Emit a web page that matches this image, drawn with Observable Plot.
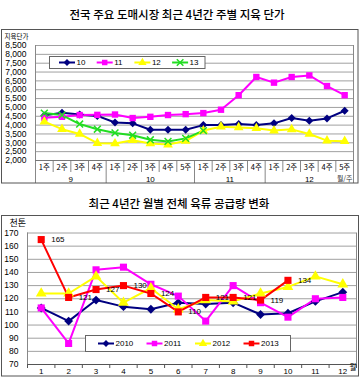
<!DOCTYPE html>
<html><head><meta charset="utf-8">
<script src="https://cdn.jsdelivr.net/npm/d3@7"></script>
<script src="https://cdn.jsdelivr.net/npm/@observablehq/plot@0.6"></script>
<style>
body{margin:0;background:#fff;width:361px;height:378px;position:relative;overflow:hidden;}
.chart{position:absolute;left:0;}
#overlay{position:absolute;left:0;top:0;}
</style></head>
<body>
<div id="top" class="chart" style="top:29px"></div>
<div id="bottom" class="chart" style="top:215px"></div>
<svg id="overlay" width="361" height="378"></svg>
<script>
// ---------- data: top chart (weekly carcass price) ----------
const weekLabels = ["1주","2주","3주","4주","1주","2주","3주","4주","5주","1주","2주","3주","4주","1주","2주","3주","4주","5주"];
const monthLabels = ["9","10","11","12"];
const weeksPerMonth = [4,5,4,5];
const topTicks = [2000,2500,3000,3500,4000,4500,5000,5500,6000,6500,7000,7500,8000,8500];
const topNames = ["10","11","12","13"];
const price10 = [4550,4700,4600,4520,4150,4100,3740,3740,3740,4000,4000,4060,4000,4100,4400,4250,4380,4810];
const price11 = [4420,4470,4570,4580,4600,4400,4470,4570,4620,4680,4870,5690,6720,6400,6720,6810,6210,5690];
const price12 = [4200,3770,3500,2980,2960,3150,2960,2900,3100,3690,3910,3870,3820,3690,3760,3500,3120,3090];
const price13 = [4680,4570,4060,3770,3560,3430,3170,3080,3250,3690];

// ---------- data: bottom chart (monthly meat supply) ----------
const monthNums = [1,2,3,4,5,6,7,8,9,10,11,12];
const botTicks = [70,80,90,100,110,120,130,140,150,160,170];
const botNames = ["2010","2011","2012","2013"];
const supply2010 = [113,103,119,114,112,117,116,117,108,109,118,125];
const supply2011 = [113,86,142,144,131,122,103,130,117,106,120,121];
const supply2012 = [124,124,137,117,128,112,119,118,124,129,137,131];
const supply2013 = [165,121,127,130,124,110,121,121,119,134];

// ---------- styles ----------
const FONT = '"Liberation Sans","Noto Sans CJK KR",sans-serif';
const KFONT = '"Noto Sans CJK KR",sans-serif';
const topColors = ["#000080","#ff00ff","#ffff00","#22dd22"];
const topSymbols = ["diamond2","square","triangle","times"];
const botColors = ["#000080","#ff00ff","#ffff00","#ff0000"];
const botSymbols = ["diamond2","square","triangle","square"];
const gridColor = "#a0a0a0";

// ---------- top chart ----------
const topSeries = [price10, price11, price12, price13];
const topRows = topSeries.flatMap((vals, s) => vals.map((v, i) => ({series: topNames[s], pos: i + 0.5, v})));
const monthStarts = d3.cumsum([0, ...weeksPerMonth]);            // 0,4,9,13,18
const monthCenters = weeksPerMonth.map((n, k) => monthStarts[k] + n / 2);
const nWeeks = weekLabels.length;
const weekBounds = d3.range(1, nWeeks).filter(b => !monthStarts.includes(b));

const topPlot = Plot.plot({
  width: 361, height: 154,
  marginTop: 16, marginBottom: 23, marginLeft: 35, marginRight: 8,
  style: {fontFamily: FONT, background: "transparent", overflow: "visible", color: "#000"},
  x: {domain: [0, nWeeks], axis: null, label: null},
  y: {domain: [topTicks[0], topTicks[topTicks.length - 1]], axis: null, label: null},
  color: {domain: topNames, range: topColors},
  symbol: {domain: topNames, range: topSymbols},
  marks: [
    Plot.ruleY(topTicks.slice(1), {stroke: gridColor}),
    Plot.ruleX([0, nWeeks], {stroke: "#888"}),
    Plot.axisX({ticks: weekBounds, tickSize: 12, tickFormat: () => "", stroke: "#888", label: null}),
    Plot.axisX({ticks: monthStarts, tickSize: 23, tickFormat: () => "", stroke: "#888", label: null}),
    Plot.ruleY([topTicks[0]], {stroke: "#777"}),
    Plot.axisY({ticks: topTicks, tickSize: 0, tickPadding: 9, tickFormat: d3.format(","), fontSize: 8.5, label: null}),
    Plot.line(topRows, {x: "pos", y: "v", z: "series", stroke: "series", strokeWidth: 2}),
    Plot.dot(topRows.filter(d => d.series !== "13"), {x: "pos", y: "v", symbol: "series", fill: "series", r: 3.6}),
    Plot.dot(topRows.filter(d => d.series === "13"), {x: "pos", y: "v", symbol: "series", stroke: "series", r: 3.2, strokeWidth: 1.5}),
    Plot.text(weekLabels, {x: (d, i) => i + 0.5, text: d => d, frameAnchor: "bottom", lineAnchor: "middle", dy: 7, fontSize: 7.5, fontFamily: KFONT}),
    Plot.text(monthLabels, {x: (d, i) => monthCenters[i], text: d => d, frameAnchor: "bottom", lineAnchor: "middle", dy: 19, fontSize: 8}),
    Plot.text(["월/주"], {text: d => d, frameAnchor: "bottom-right", textAnchor: "end", lineAnchor: "middle", dx: -1, dy: 18, fontSize: 7, fontFamily: KFONT, fill: "#333"}),
    Plot.text(["지육단가"], {text: d => d, frameAnchor: "top-left", textAnchor: "start", lineAnchor: "middle", dx: -31, dy: -9, fontSize: 6.5, fontFamily: KFONT})
  ]
});
document.getElementById("top").appendChild(topPlot);

// ---------- bottom chart ----------
const botSeries = [supply2010, supply2011, supply2012, supply2013];
const botRows = botSeries.flatMap((vals, s) => vals.map((v, i) => ({series: botNames[s], m: monthNums[i], v})));
const labelRows = supply2013.map((v, i) => ({m: monthNums[i], v}));

const botPlot = Plot.plot({
  width: 361, height: 161,
  marginTop: 17.5, marginBottom: 12, marginLeft: 27, marginRight: 5,
  style: {fontFamily: FONT, background: "transparent", overflow: "visible", color: "#000"},
  x: {domain: [0.5, monthNums.length + 0.5], axis: null, label: null},
  y: {domain: [botTicks[0], botTicks[botTicks.length - 1]], axis: null, label: null},
  color: {domain: botNames, range: botColors},
  symbol: {domain: botNames, range: botSymbols},
  marks: [
    Plot.ruleY(botTicks.slice(1), {stroke: gridColor}),
    Plot.ruleX([0.5, monthNums.length + 0.5], {stroke: "#888"}),
    Plot.ruleY([botTicks[0]], {stroke: "#555"}),
    Plot.axisX({ticks: d3.range(0.5, monthNums.length + 1, 1), tickSize: 4, tickFormat: () => "", stroke: "#555", label: null}),
    Plot.axisX({ticks: monthNums, tickSize: 0, tickPadding: 4, fontSize: 8, label: null}),
    Plot.axisY({ticks: botTicks, tickSize: 0, tickPadding: 9, fontSize: 8.5, label: null}),
    Plot.line(botRows, {x: "m", y: "v", z: "series", stroke: "series", strokeWidth: 2}),
    Plot.dot(botRows, {x: "m", y: "v", symbol: "series", fill: "series", r: 4}),
    Plot.text(labelRows, {x: "m", y: "v", text: d => String(d.v), textAnchor: "start", dx: 10, fontSize: 8}),
    Plot.text(["천톤"], {text: d => d, frameAnchor: "top-left", textAnchor: "start", lineAnchor: "middle", dx: -18, dy: -10, fontSize: 9, fontFamily: KFONT, letterSpacing: 1}),
    Plot.text(["월"], {text: d => d, frameAnchor: "bottom-right", textAnchor: "end", lineAnchor: "middle", dx: 0, dy: 3, fontSize: 7.5, fontFamily: KFONT})
  ]
});
document.getElementById("bottom").appendChild(botPlot);

// ---------- overlay: titles, frames, legends ----------
const ov = d3.select("#overlay");
ov.append("rect").attr("x", 1.5).attr("y", 29.5).attr("width", 356.5).attr("height", 153.5).attr("fill", "none").attr("stroke", "#555");
ov.append("rect").attr("x", 1.5).attr("y", 215.5).attr("width", 357).attr("height", 160.5).attr("fill", "none").attr("stroke", "#555");
ov.append("text").attr("x", 177).attr("y", 19).attr("text-anchor", "middle").attr("font-family", KFONT).attr("font-size", 11.5).attr("font-weight", 500).text("전국 주요 도매시장 최근 4년간 주별 지육 단가");
ov.append("text").attr("x", 179).attr("y", 208).attr("text-anchor", "middle").attr("font-family", KFONT).attr("font-size", 11.5).attr("font-weight", 500).text("최근 4년간 월별 전체 육류 공급량 변화");

function symPath(name, size) {
  const map = {diamond2: d3.symbolDiamond2, square: d3.symbolSquare, triangle: d3.symbolTriangle, times: d3.symbolTimes};
  return d3.symbol(map[name], size)();
}
function legend(x, y, w, h, names, colors, symbols, x0, step, lineLen, fs) {
  ov.append("rect").attr("x", x).attr("y", y).attr("width", w).attr("height", h).attr("fill", "#fff").attr("stroke", "#666");
  const cy = y + h / 2;
  names.forEach((n, k) => {
    const lx = x0 + k * step;
    ov.append("line").attr("x1", lx).attr("x2", lx + lineLen).attr("y1", cy).attr("y2", cy).attr("stroke", colors[k]).attr("stroke-width", 2);
    const p = ov.append("path").attr("d", symPath(symbols[k], 30)).attr("transform", `translate(${lx + lineLen / 2},${cy})`);
    if (symbols[k] === "times") p.attr("fill", "none").attr("stroke", colors[k]).attr("stroke-width", 1.5);
    else p.attr("fill", colors[k]);
    ov.append("text").attr("x", lx + lineLen + 1.5).attr("y", cy).attr("dy", "0.35em").attr("font-family", FONT).attr("font-size", fs).text(n);
  });
}
legend(49.5, 56.5, 155.5, 12, topNames, topColors, topSymbols, 59, 37.7, 16, 8);
legend(85.5, 335.5, 205, 16, botNames, botColors, botSymbols, 98, 48.5, 16, 8);
</script>
</body></html>
